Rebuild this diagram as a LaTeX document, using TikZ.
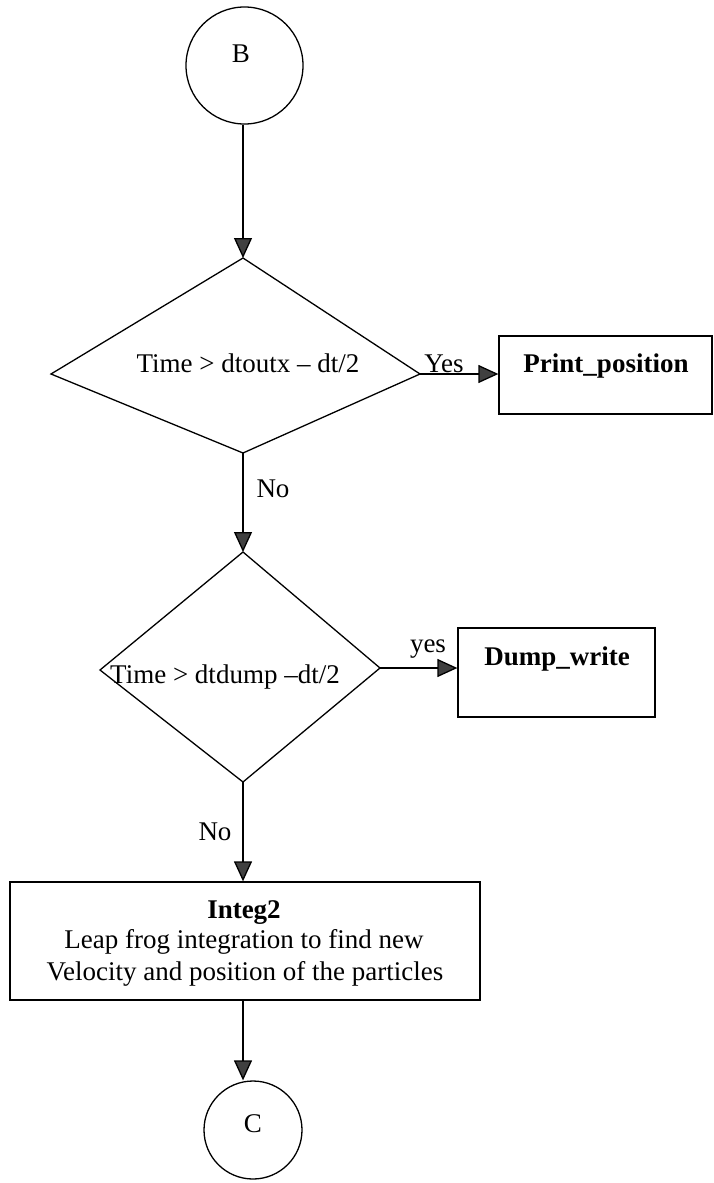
\documentclass[tikz,border=0pt]{standalone}
\usepackage{fontspec}
\setmainfont{Liberation Serif}
\usetikzlibrary{arrows.meta}
\begin{document}
\begin{tikzpicture}[x=1pt,y=-1pt,
  line/.style={line width=1.3pt},
  flow/.style={line, -{Triangle[length=20pt,width=18pt,fill=black!75]}},
  txt/.style={inner sep=0pt, anchor=base, font=\fontsize{27}{31}\selectfont},
  btxt/.style={txt, font=\fontsize{27}{31}\selectfont\bfseries},
  box/.style={draw, line, rectangle, inner sep=0pt},
  conn/.style={draw, line, circle, inner sep=0pt}]
\useasboundingbox (0,0) rectangle (713,1183);

% off-page connectors
\node[conn, minimum size=117pt] (B) at (244.5,65.5) {};
\node[txt] (Btxt) at (241,62) {B};
\node[conn, minimum size=98pt] (C) at (253,1130) {};
\node[txt] (Ctxt) at (253,1132) {C};

% first decision
\coordinate (t1) at (243,258);
\coordinate (r1) at (420,374);
\coordinate (b1) at (243,453);
\coordinate (l1) at (51,374);
\draw[line] (t1) -- (r1) -- (b1) -- (l1) -- cycle;
\node[txt] (q1) at (248,372) {Time > dtoutx – dt/2};

% second decision
\coordinate (t2) at (243,552);
\coordinate (r2) at (380,668);
\coordinate (b2) at (243,782);
\coordinate (l2) at (100,670);
\draw[line] (t2) -- (r2) -- (b2) -- (l2) -- cycle;
\node[txt] (q2) at (225,683) {Time > dtdump –dt/2};

% process boxes
\node[box, minimum width=213pt, minimum height=78pt] (pp) at (605.5,375) {};
\node[btxt] (pptxt) at (606,372) {Print\_position};
\node[box, minimum width=197pt, minimum height=89pt] (dw) at (556.5,672.5) {};
\node[btxt] (dwtxt) at (557,665) {Dump\_write};
\node[box, minimum width=470pt, minimum height=118pt] (ig) at (245,941) {};
\node[btxt] (ig1) at (244,918) {Integ2};
\node[txt] (ig2) at (244,948) {Leap frog integration to find new};
\node[txt] (ig3) at (245,980) {Velocity and position of the particles};

% connectors
\draw[flow] (B.south -| t1) -- (t1);
\draw[flow] (r1) -- (r1 -| pp.west);
\draw[flow] (b1) -- (t2);
\draw[flow] (r2) -- (r2 -| dw.west);
\draw[flow] (b2) -- (b2 |- ig.north);
\draw[flow] (ig.south -| b2) -- (C.north -| b2);

% branch labels
\node[txt] (yes1) at (444,372) {Yes};
\node[txt] (no1) at (273,497) {No};
\node[txt] (yes2) at (428,652) {yes};
\node[txt] (no2) at (215,840) {No};
\end{tikzpicture}
\end{document}
